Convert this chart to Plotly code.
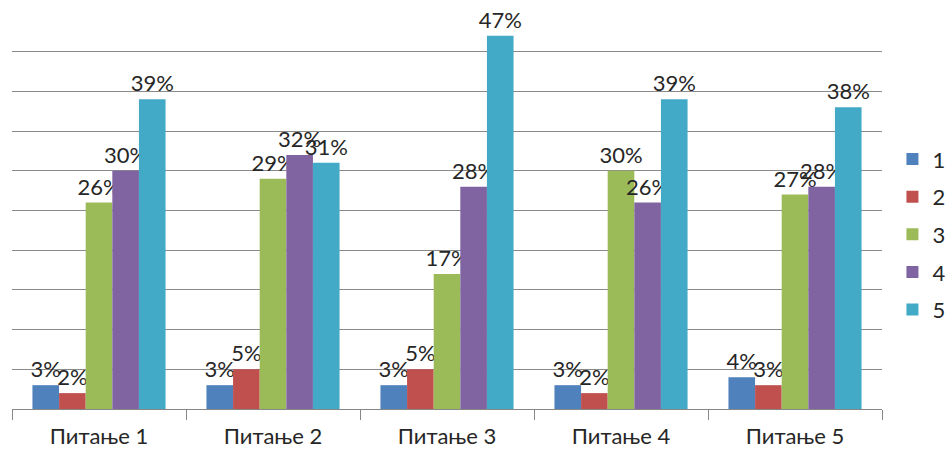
import plotly.graph_objects as go

categories = ["Питање 1", "Питање 2", "Питање 3", "Питање 4", "Питање 5"]
series_names = ["1", "2", "3", "4", "5"]
s1 = [3, 3, 3, 3, 4]
s2 = [2, 5, 5, 2, 3]
s3 = [26, 29, 17, 30, 27]
s4 = [30, 32, 28, 26, 28]
s5 = [39, 31, 47, 39, 38]
series_values = [s1, s2, s3, s4, s5]
colors = ["#4F81BD", "#C0504D", "#9BBB59", "#8064A2", "#42AAC7"]

font_family = "Lato, 'Open Sans', sans-serif"

fig = go.Figure()
for i, (name, vals) in enumerate(zip(series_names, series_values)):
    fig.add_trace(go.Bar(
        x=categories, y=vals, name=name,
        marker=dict(color=colors[i], line=dict(width=0)),
        text=[f"{v}%" for v in vals],
        textposition="outside",
        constraintext="none",
        cliponaxis=False,
        textfont=dict(family=font_family, size=22, color="#262626"),
        legendgroup=name,
    ))

fig.update_layout(
    width=945, height=455,
    margin=dict(l=12, r=63, t=12, b=46, autoexpand=False),
    paper_bgcolor="white", plot_bgcolor="white",
    barmode="group", bargap=0.235, bargroupgap=0,
    font=dict(family=font_family, size=22, color="#262626"),
    legend=dict(
        x=1.012, xanchor="left", y=0.44, yanchor="middle",
        font=dict(size=22), tracegroupgap=6,
        itemwidth=30,
    ),
    showlegend=True,
)
fig.update_xaxes(
    showline=True, linecolor="#878787", linewidth=1,
    ticks="outside", tickson="boundaries", ticklen=10, tickcolor="#878787",
    ticklabelstandoff=8,
    tickfont=dict(size=22, color="#262626"), showgrid=False,
)
fig.update_yaxes(
    range=[0, 50], dtick=5, showticklabels=False,
    showgrid=True, gridcolor="#8A8A8A", gridwidth=1.2,
    zeroline=False, showline=False, ticks="",
)

fig.write_html("out.html")
